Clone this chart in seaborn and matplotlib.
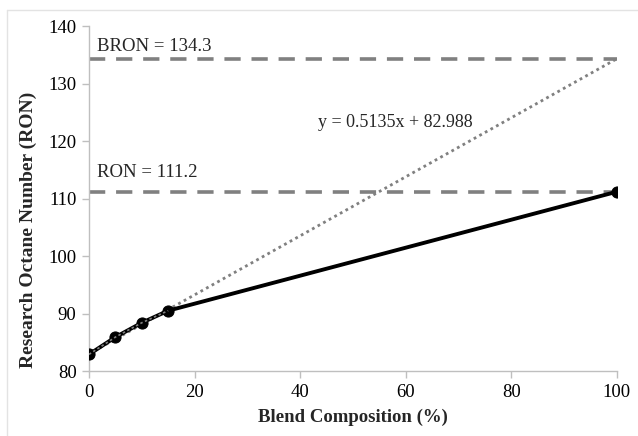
import numpy as np
import pandas as pd
import matplotlib
matplotlib.use("Agg")
import matplotlib.pyplot as plt
from matplotlib.lines import Line2D
import seaborn as sns

# Measured blends
blend_pct = [0, 5, 10, 15, 100]
ron_values = [82.9, 85.9, 88.4, 90.5, 111.2]

# Linear fit on the low-blend points, extrapolated to 100 %
fit_slope = 0.5135
fit_intercept = 82.988
fit_x = [0, 100]

pure_ron = 111.2
blending_ron = 134.3

x_ticks = [0, 20, 40, 60, 80, 100]
y_ticks = [80, 90, 100, 110, 120, 130, 140]

sns.set_theme(style="white")
plt.rcParams["font.family"] = ["Liberation Serif", "DejaVu Serif"]

fig = plt.figure(figsize=(6.38, 4.36), dpi=100)
ax = fig.add_axes([0.1395, 0.149, 0.8275, 0.791])

grey = "#808080"

# reference levels
for level in (blending_ron, pure_ron):
    sns.lineplot(x=[0, 100], y=[level, level], ax=ax, color=grey, lw=2.6,
                 linestyle=(0, (4.5, 3.0)), zorder=2)

# extrapolated trend line
fit_df = pd.DataFrame({"x": fit_x,
                       "y": [fit_slope * v + fit_intercept for v in fit_x]})
sns.lineplot(data=fit_df, x="x", y="y", ax=ax, color=grey, lw=2.0,
             linestyle=(0, (1, 1.3)), zorder=3)

# measured data
data = pd.DataFrame({"blend": blend_pct, "ron": ron_values})
sns.lineplot(data=data, x="blend", y="ron", ax=ax, color="black", lw=2.8,
             marker="o", markersize=8, markeredgecolor="black", zorder=4)
sns.lineplot(data=data.iloc[:4], x="blend", y="ron", ax=ax, color=grey,
             lw=1.2, linestyle=(0, (1.5, 1.5)), zorder=5)

ax.set_xlim(0, 100)
ax.set_ylim(80, 140)
ax.set_xticks(x_ticks)
ax.set_yticks(y_ticks)
ax.tick_params(axis="both", which="both", direction="out", length=5,
               width=1, color="#bfbfbf", labelsize=13.5, pad=4,
               bottom=True, left=True, labelcolor="black")
for side in ("top", "right"):
    ax.spines[side].set_visible(False)
for side in ("left", "bottom"):
    ax.spines[side].set_color("#bfbfbf")
    ax.spines[side].set_linewidth(1.0)

ax.set_xlabel("Blend Composition (%)", fontsize=13.5, fontweight="bold",
              labelpad=6)
ax.set_ylabel("Research Octane Number (RON)", fontsize=14,
              fontweight="bold")
ax.yaxis.set_label_coords(-0.098, 0.41)

ax.text(1.5, 136.4, f"BRON = {blending_ron}", fontsize=13.5, va="center")
ax.text(1.5, 114.5, f"RON = {pure_ron}", fontsize=13.5, va="center")
ax.text(58, 123.3, f"y = {fit_slope}x + {fit_intercept}", fontsize=13,
        va="center", ha="center")

# light frame edge (left and top) around the chart
fig.add_artist(Line2D([0.011, 0.011], [0.0, 0.977], transform=fig.transFigure,
                      color="#e3e3e3", lw=1.0))
fig.add_artist(Line2D([0.011, 1.0], [0.977, 0.977], transform=fig.transFigure,
                      color="#e3e3e3", lw=1.0))

fig.savefig("out.png", dpi=100)
